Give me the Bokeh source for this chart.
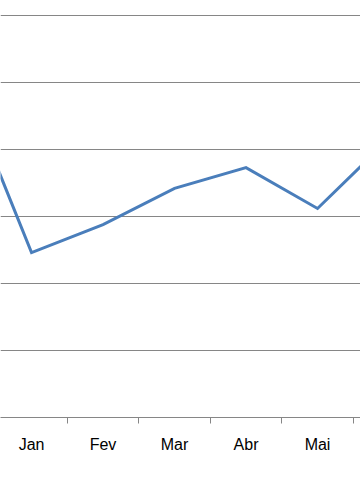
from bokeh.plotting import figure
from bokeh.models import Range1d, FixedTicker
from bokeh.embed import file_html
from bokeh.resources import INLINE

months = ["Dez", "Jan", "Fev", "Mar", "Abr", "Mai", "Jun"]
values = [5.11, 2.46, 2.88, 3.42, 3.73, 3.12, 4.16]
grid_values = [1, 2, 3, 4, 5, 6]

xs = list(range(len(months)))

p = figure(width=360, height=504, output_backend="svg", toolbar_location=None,
           x_range=Range1d(0.566, 5.601), y_range=Range1d(0, 6.224),
           min_border_left=0, min_border_right=0, min_border_top=0, min_border_bottom=87)
p.outline_line_color = None
p.yaxis.visible = False
p.xgrid.visible = False
p.ygrid.ticker = FixedTicker(ticks=grid_values)
p.ygrid.grid_line_color = "#868686"
p.ygrid.grid_line_width = 1

p.line(xs, values, line_color="#4A7EBB", line_width=3, line_join="miter")

ax = p.xaxis[0]
ax.ticker = FixedTicker(ticks=xs, minor_ticks=[x + 0.5 for x in xs] + [-0.5])
ax.major_label_overrides = {i: m for i, m in enumerate(months)}
ax.major_tick_line_color = None
ax.major_tick_out = 0
ax.major_tick_in = 0
ax.minor_tick_line_color = "#868686"
ax.minor_tick_out = 6
ax.minor_tick_in = 0
ax.axis_line_color = "#868686"
ax.axis_line_width = 1
ax.major_label_standoff = 12
ax.major_label_text_font = "Liberation Sans"
ax.major_label_text_font_size = "16px"
ax.major_label_text_color = "#000000"

open("out.html", "w").write(file_html(p, INLINE))
